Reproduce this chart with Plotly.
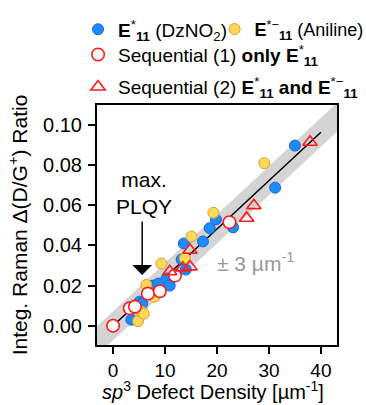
import plotly.graph_objects as go
import numpy as np

# ---- data ----
dz_x = [3.5, 5.1, 5.6, 7.7, 8.7, 10.3, 10.9, 13.2, 13.6, 14.0, 17.3, 18.6, 19.8, 23.1, 31.2, 35.0]
dz_y = [0.003, 0.012, 0.011, 0.020, 0.021, 0.0236, 0.020, 0.033, 0.041, 0.028, 0.042, 0.0486, 0.053, 0.049, 0.0688, 0.0898]

an_x = [4.8, 5.5, 5.9, 6.4, 8.0, 9.3, 13.8, 15.1, 19.3, 29.1]
an_y = [0.0023, 0.007, 0.006, 0.0203, 0.0145, 0.031, 0.0336, 0.0445, 0.0563, 0.081]

s1_x = [0.0, 3.2, 4.2, 6.7, 9.0, 11.9, 22.4]
s1_y = [0.0, 0.0087, 0.0095, 0.016, 0.0172, 0.025, 0.0516]

s2_x = [10.9, 13.4, 14.8, 14.8, 25.7, 27.1, 37.9]
s2_y = [0.027, 0.0288, 0.0294, 0.0377, 0.0536, 0.0599, 0.0915]

fit_slope = 0.00241
fit_x = [0.0, 40.0]
band_dx = 3.0
band_x = [-6.0, 46.0]

xticks = [0, 10, 20, 30, 40]
yticks = [0.00, 0.02, 0.04, 0.06, 0.08, 0.10]

FONT = "Arial, Liberation Sans, sans-serif"

fig = go.Figure()

# band (+/- 3 um^-1 horizontally)
bx = np.array(band_x)
upper = fit_slope * (bx + band_dx)
lower = fit_slope * (bx - band_dx)
fig.add_trace(go.Scatter(
    x=list(bx) + list(bx[::-1]), y=list(upper) + list(lower[::-1]),
    fill="toself", fillcolor="#d4d4d4", line=dict(width=0),
    mode="lines", showlegend=False, hoverinfo="skip"))

fx = np.array(fit_x)
fig.add_trace(go.Scatter(x=fx, y=fit_slope * fx, mode="lines",
                         line=dict(color="black", width=1.5), showlegend=False))

fig.add_trace(go.Scatter(
    x=dz_x, y=dz_y, mode="markers", legend="legend",
    name="<b>E</b><sup>*</sup><sub><b>11</b></sub> (DzNO<sub>2</sub>)",
    marker=dict(symbol="circle", size=11, color="#1a8cff",
                line=dict(color="#2266cc", width=1))))
fig.add_trace(go.Scatter(
    x=an_x, y=an_y, mode="markers", legend="legend2",
    name="<b>E</b><sup>*−</sup><sub><b>11</b></sub> (Aniline)",
    marker=dict(symbol="circle", size=11, color="#ffd95a",
                line=dict(color="#e39a2c", width=1))))
fig.add_trace(go.Scatter(
    x=s1_x, y=s1_y, mode="markers", legend="legend3",
    name="Sequential (1) <b>only E</b><sup>*</sup><sub><b>11</b></sub>",
    marker=dict(symbol="circle", size=12.5, color="white",
                line=dict(color="#ff1a1a", width=1.6))))
fig.add_trace(go.Scatter(
    x=s2_x, y=s2_y, mode="markers", legend="legend4",
    name="Sequential (2) <b>E</b><sup>*</sup><sub><b>11</b></sub><b> and E</b><sup>*−</sup><sub><b>11</b></sub>",
    marker=dict(symbol="triangle-up-open", size=12.5, color="#ff1a1a",
                line=dict(color="#ff1a1a", width=1.6))))

# annotations
fig.add_annotation(x=5.6, y=0.0253, ax=5.6, ay=0.0527, xref="x", yref="y",
                   axref="x", ayref="y", text="", showarrow=True,
                   arrowhead=1, arrowsize=2.2, arrowwidth=1.5, arrowcolor="black")
fig.add_annotation(x=6.0, y=0.066, xref="x", yref="y", text="max.<br>PLQY",
                   showarrow=False, font=dict(family=FONT, size=21, color="black"),
                   yanchor="middle", xanchor="center")
fig.add_annotation(x=27.5, y=0.0317, xref="x", yref="y", text="± 3 µm<sup>-1</sup>",
                   showarrow=False, font=dict(family=FONT, size=21, color="#999999"))
# x-axis title placed as annotation for precise placement
fig.add_annotation(x=0.485, y=-0.19, xref="paper", yref="paper",
                   text="<i>sp</i><sup>3</sup> Defect Density [µm<sup>-1</sup>]",
                   showarrow=False, xanchor="center", yanchor="middle",
                   font=dict(family=FONT, size=20, color="black"))

axis_common = dict(showline=True, linecolor="black", linewidth=2, mirror=True,
                   ticks="outside", ticklen=7, tickwidth=1.5, tickcolor="black",
                   showgrid=False, zeroline=False)

fig.update_xaxes(range=[-3.1, 43.1], tickvals=xticks, ticklabelstandoff=0,
                 tickfont=dict(family=FONT, size=19, color="black"),
                 **axis_common)
fig.update_yaxes(range=[-0.0096, 0.11], tickvals=yticks, tickformat=".2f",
                 ticklabelstandoff=2,
                 tickfont=dict(family=FONT, size=20, color="black"),
                 title=dict(text="Integ. Raman Δ(D/G<sup>+</sup>) Ratio",
                            font=dict(family=FONT, size=21, color="black"), standoff=10),
                 **axis_common)

leg_common = dict(orientation="h", xanchor="left", yanchor="middle",
                  bgcolor="rgba(0,0,0,0)", itemwidth=30)
lf19 = dict(family=FONT, size=19, color="black")
lf18 = dict(family=FONT, size=18, color="black")
fig.update_layout(
    width=366, height=405,
    margin=dict(l=97, r=29, t=105, b=60, autoexpand=False),
    plot_bgcolor="white", paper_bgcolor="white",
    font=dict(family=FONT, size=20, color="black"),
    legend=dict(x=-0.079, y=1.315, font=lf19, **leg_common),
    legend2=dict(x=0.49, y=1.315, font=lf18, **leg_common),
    legend3=dict(x=-0.079, y=1.21, font=lf19, **leg_common),
    legend4=dict(x=-0.079, y=1.075, font=lf19, **leg_common),
)

fig.write_html("out.html")
